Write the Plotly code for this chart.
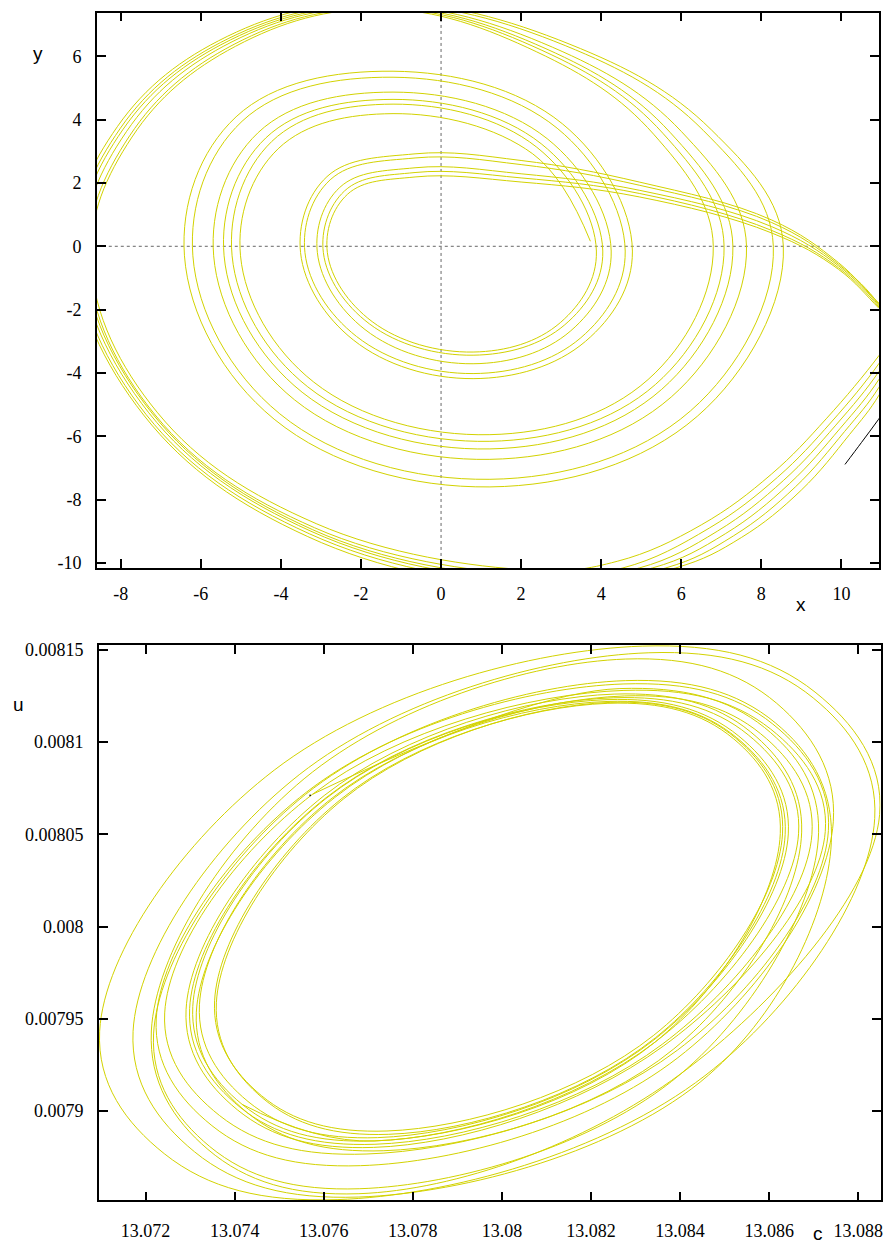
import plotly.graph_objects as go

# ================= TOP PANEL (x, y) =================
# Trajectory read at characteristic points of each pass; passes ranked outer -> inner.
# re-injection branch (tail), 5 passes
TAIL_X = [10.94, 9.93, 8.26, 4.95, 2.0]
TAIL_Y = [
    [-1.80, -0.52, 0.83, 2.03, 2.71],
    [-1.84, -0.57, 0.75, 1.93, 2.58],
    [-1.88, -0.62, 0.62, 1.77, 2.29],
    [-1.92, -0.68, 0.50, 1.67, 2.16],
    [-1.96, -0.73, 0.42, 1.56, 2.03],
]
# small turn: top, upper-left, left, lower-left, bottom, lower-right, right, upper-right
S_X = [
    [-0.65, -2.85, -3.51, -2.19, 0.8, 3.61, 4.78, 3.03],
    [-0.65, -2.77, -3.40, -2.11, 0.8, 3.49, 4.60, 2.90],
    [-0.65, -2.53, -3.09, -1.90, 0.8, 3.24, 4.25, 2.65],
    [-0.65, -2.41, -2.94, -1.79, 0.8, 3.09, 4.04, 2.50],
    [-0.65, -2.34, -2.84, -1.72, 0.8, 2.98, 3.88, 2.39],
]
S_Y = [
    [2.92, 2.20, -0.2, -2.96, -4.18, -3.00, -0.15, 3.87],
    [2.79, 2.10, -0.2, -2.85, -4.02, -2.89, -0.15, 3.73],
    [2.48, 1.86, -0.2, -2.63, -3.71, -2.67, -0.15, 3.40],
    [2.33, 1.75, -0.2, -2.45, -3.44, -2.48, -0.15, 3.24],
    [2.19, 1.64, -0.2, -2.38, -3.34, -2.41, -0.15, 3.13],
]
START_X = [3.73, 2.29]
START_Y = [0.16, 2.92]
# middle turn: top, upper-left, left, lower-left, bottom, lower-right, right, two upper-right
M_X = [
    [-1.2, -5.12, -6.41, -4.17, 1.22, 6.40, 8.55, 6.75, 3.22],
    [-1.2, -4.97, -6.20, -4.03, 1.22, 6.23, 8.30, 6.55, 3.10],
    [-1.2, -4.57, -5.68, -3.66, 1.22, 5.75, 7.63, 6.00, 2.78],
    [-1.2, -4.38, -5.42, -3.47, 1.22, 5.51, 7.29, 5.72, 2.62],
    [-1.2, -4.23, -5.22, -3.33, 1.22, 5.36, 7.07, 5.54, 2.52],
    [-1.2, -4.07, -5.01, -3.18, 1.22, 5.17, 6.80, 5.31, 2.39],
]
M_Y = [
    [5.53, 4.09, -0.3, -5.46, -7.60, -5.37, 0.0, 3.68, 6.38],
    [5.34, 3.95, -0.3, -5.29, -7.36, -5.20, 0.0, 3.66, 6.34],
    [4.87, 3.59, -0.3, -4.85, -6.73, -4.76, 0.0, 3.63, 6.29],
    [4.64, 3.42, -0.3, -4.61, -6.40, -4.52, 0.0, 3.60, 6.24],
    [4.49, 3.31, -0.3, -4.44, -6.16, -4.36, 0.0, 3.57, 6.19],
    [4.19, 3.08, -0.3, -4.29, -5.95, -4.21, 0.0, 3.54, 6.14],
]
# big turn: top, 2 upper-left, left, 2 lower-left, bottom, lower-right readings, exit
B_X = [
    [-1.5, -5.34, -8.08, -9.16, -7.43, -3.33, 2.27, 5.86, 7.50, 9.00, 10.20, 10.94, 11.5],
    [-1.5, -5.30, -8.01, -9.08, -7.37, -3.29, 2.27, 5.61, 7.30, 8.85, 10.08, 10.94, 11.5],
    [-1.5, -5.26, -7.94, -9.00, -7.30, -3.25, 2.27, 5.28, 7.10, 8.70, 9.97, 10.94, 11.5],
    [-1.5, -5.22, -7.86, -8.91, -7.22, -3.21, 2.27, 4.95, 6.90, 8.55, 9.86, 10.94, 11.5],
    [-1.5, -5.17, -7.78, -8.81, -7.14, -3.16, 2.27, 4.54, 6.70, 8.40, 9.75, 10.94, 11.5],
    [-1.5, -5.13, -7.72, -8.74, -7.08, -3.12, 2.27, 4.40, 6.50, 8.25, 9.62, 10.94, 11.5],
]
B_Y = [
    [7.72, 6.63, 3.79, -0.10, -5.33, -9.17, -10.78, -10.16, -9.20, -7.70, -5.95, -4.70, -3.20],
    [7.66, 6.57, 3.73, -0.17, -5.31, -9.08, -10.66, -10.16, -9.15, -7.60, -5.85, -4.45, -3.00],
    [7.61, 6.52, 3.70, -0.16, -5.26, -9.00, -10.57, -10.16, -9.08, -7.50, -5.75, -4.20, -2.85],
    [7.57, 6.46, 3.62, -0.26, -5.27, -8.95, -10.49, -10.16, -9.00, -7.40, -5.65, -3.95, -2.70],
    [7.53, 6.38, 3.49, -0.47, -5.33, -8.89, -10.39, -10.16, -8.90, -7.30, -5.55, -3.70, -2.55],
    [7.50, 6.32, 3.45, -0.48, -5.26, -8.76, -10.23, -9.95, -8.80, -7.20, -5.45, -3.45, -2.40],
]
BLACK_X = [10.09, 10.50, 10.92, 11.30]
BLACK_Y = [-6.89, -6.20, -5.48, -4.80]

TOP_XTICKS = [-8, -6, -4, -2, 0, 2, 4, 6, 8, 10]
TOP_XTEXT = ["-8", "-6", "-4", "-2", "0", "2", "4", "6", "8", "10"]
TOP_YTICKS = [-10, -8, -6, -4, -2, 0, 2, 4, 6]
TOP_YTEXT = ["-10", "-8", "-6", "-4", "-2", "0", "2", "4", "6"]

# ================= BOTTOM PANEL (c, u) =================
# each turn read at 8 points: right, upper-right, top, upper-left, left, lower-left, bottom, lower-right
L0_C = [13.07417, 13.07713, 13.08344]
L0_U = [0.0079036, 0.0078838, 0.0079374]
L1_C = [13.08636, 13.08527, 13.08236, 13.07616, 13.07321, 13.07430, 13.07721, 13.08341]
L1_U = [0.0080500, 0.0081024, 0.0081220, 0.0080691, 0.0079576, 0.0079052, 0.0078856, 0.0079385]
L2_C = [13.08673, 13.08558, 13.08252, 13.07601, 13.07291, 13.07406, 13.07712, 13.08363]
L2_U = [0.0080512, 0.0081056, 0.0081260, 0.0080710, 0.0079551, 0.0079007, 0.0078803, 0.0079353]
L3_C = [13.08733, 13.08608, 13.08274, 13.07562, 13.07224, 13.07349, 13.07683, 13.08395]
L3_U = [0.0080520, 0.0081098, 0.0081315, 0.0080730, 0.0079499, 0.0078921, 0.0078704, 0.0079289]
L4_C = [13.08625, 13.08520, 13.08238, 13.07639, 13.07355, 13.07460, 13.07742, 13.08341]
L4_U = [0.0080504, 0.0081018, 0.0081210, 0.0080691, 0.0079598, 0.0079084, 0.0078892, 0.0079411]
L5_C = [13.08666, 13.08553, 13.08250, 13.07605, 13.07299, 13.07412, 13.07715, 13.08360]
L5_U = [0.0080503, 0.0081039, 0.0081240, 0.0080698, 0.0079557, 0.0079021, 0.0078820, 0.0079362]
L6_C = [13.08848, 13.08703, 13.08315, 13.07489, 13.07097, 13.07242, 13.07630, 13.08456]
L6_U = [0.0080607, 0.0081271, 0.0081520, 0.0080848, 0.0079433, 0.0078769, 0.0078520, 0.0079192]
L7_C = [13.08630, 13.08525, 13.08243, 13.07644, 13.07359, 13.07464, 13.07746, 13.08345]
L7_U = [0.0080502, 0.0081021, 0.0081215, 0.0080691, 0.0079587, 0.0079068, 0.0078874, 0.0079398]
L8_C = [13.08711, 13.08590, 13.08265, 13.07575]
L8_U = [0.0080511, 0.0081078, 0.0081290, 0.0080717]
L9_C = [13.08643, 13.08532, 13.08236, 13.07605, 13.07306, 13.07417, 13.07713, 13.08344]
L9_U = [0.0080502, 0.0081032, 0.0081230, 0.0080694, 0.0079566, 0.0079036, 0.0078838, 0.0079374]
L10_C = [13.08837, 13.08699, 13.08330, 13.07545, 13.07172, 13.07310, 13.07679, 13.08464]
L10_U = [0.0080586, 0.0081239, 0.0081484, 0.0080823, 0.0079432, 0.0078779, 0.0078534, 0.0079195]
L11_C = [13.08726, 13.08603, 13.08274, 13.07575, 13.07243, 13.07366, 13.07695, 13.08394]
L11_U = [0.0080515, 0.0081071, 0.0081280, 0.0080717, 0.0079532, 0.0078976, 0.0078767, 0.0079330]
L12_C = [13.08696, 13.08581, 13.08275, 13.07624, 13.07314, 13.07429, 13.07735, 13.08386]
L12_U = [0.0080499, 0.0081045, 0.0081250, 0.0080698, 0.0079536, 0.0078990, 0.0078785, 0.0079337]
L13_C = [13.08744, 13.08617, 13.08278, 13.07556, 13.07213, 13.07340, 13.07679, 13.08401]
L13_U = [0.0080568, 0.0081210, 0.0081450, 0.0080801, 0.0079434, 0.0078792, 0.0078552, 0.0079201]
L14_C = [13.08740, 13.08614, 13.08277, 13.07559, 13.07218, 13.07344, 13.07681, 13.08399]
L14_U = [0.0080494, 0.0081104, 0.0081333, 0.0080716, 0.0079418, 0.0078808, 0.0078579, 0.0079196]
START_CU_C = [13.07568, 13.07571]
START_CU_U = [0.0080710, 0.0080712]

BOT_XTICKS = [13.072, 13.074, 13.076, 13.078, 13.08, 13.082, 13.084, 13.086, 13.088]
BOT_XTEXT = ["13.072", "13.074", "13.076", "13.078", "13.08", "13.082", "13.084", "13.086", "13.088"]
BOT_YTICKS = [0.0079, 0.00795, 0.008, 0.00805, 0.0081, 0.00815]
BOT_YTEXT = ["0.0079", "0.00795", "0.008", "0.00805", "0.0081", "0.00815"]

# ---------- assemble trajectory (top) ----------
tx = START_X + M_X[5] + B_X[5]
ty = START_Y + M_Y[5] + B_Y[5]
for k in range(5):
    tx += TAIL_X + S_X[k] + M_X[k] + B_X[k]
    ty += TAIL_Y[k] + S_Y[k] + M_Y[k] + B_Y[k]

# ---------- assemble trajectory (bottom) ----------
order_c = [L0_C, L4_C, L7_C, L1_C, L9_C, L5_C, L12_C, L2_C, L11_C, L3_C, L13_C, L6_C, L10_C, L14_C, L8_C]
order_u = [L0_U, L4_U, L7_U, L1_U, L9_U, L5_U, L12_U, L2_U, L11_U, L3_U, L13_U, L6_U, L10_U, L14_U, L8_U]
bc, bu = [], []
for cc, uu in zip(order_c, order_u):
    bc += cc
    bu += uu

YEL = "#d2d200"
W, H = 888, 1249

fig = go.Figure()
fig.add_trace(go.Scatter(x=tx, y=ty, mode="lines", xaxis="x", yaxis="y",
                         line=dict(color=YEL, width=1, shape="spline", smoothing=1.1),
                         hoverinfo="skip", showlegend=False))
fig.add_trace(go.Scatter(x=BLACK_X, y=BLACK_Y, mode="lines", xaxis="x", yaxis="y",
                         line=dict(color="black", width=1, shape="spline"),
                         hoverinfo="skip", showlegend=False))
fig.add_trace(go.Scatter(x=bc, y=bu, mode="lines", xaxis="x2", yaxis="y2",
                         line=dict(color=YEL, width=1, shape="spline", smoothing=1.1),
                         hoverinfo="skip", showlegend=False))
fig.add_trace(go.Scatter(x=START_CU_C, y=START_CU_U, mode="lines", xaxis="x2", yaxis="y2",
                         line=dict(color="black", width=1.5),
                         hoverinfo="skip", showlegend=False))

tickfont = dict(family="Liberation Serif, Times New Roman, serif", size=18, color="black")
axis_common = dict(showline=True, linecolor="black", linewidth=1.5, mirror="ticks",
                   ticks="inside", ticklen=9, tickwidth=1.5, tickcolor="black",
                   showgrid=False, zeroline=False, tickfont=tickfont, tickmode="array")

fig.update_layout(
    width=W, height=H,
    margin=dict(l=0, r=0, t=0, b=0),
    paper_bgcolor="white", plot_bgcolor="white",
    xaxis=dict(domain=[97 / W, 881 / W], range=[-8.6, 10.94], anchor="y",
               tickvals=TOP_XTICKS, ticktext=TOP_XTEXT, ticklabelstandoff=9, **axis_common),
    yaxis=dict(domain=[1 - 567.5 / H, 1 - 7.7 / H], range=[-10.16, 7.38], anchor="x",
               tickvals=TOP_YTICKS, ticktext=TOP_YTEXT, ticklabelstandoff=10, **axis_common),
    xaxis2=dict(domain=[99 / W, 882.5 / W], range=[13.07095, 13.08850], anchor="y2",
                tickvals=BOT_XTICKS, ticktext=BOT_XTEXT, ticklabelstandoff=13, **axis_common),
    yaxis2=dict(domain=[1 - 1205 / H, 1 - 645 / H], range=[0.0078516, 0.0081527], anchor="x2",
                tickvals=BOT_YTICKS, ticktext=BOT_YTEXT, ticklabelstandoff=10, **axis_common),
    shapes=[
        dict(type="line", xref="x", yref="y domain", x0=0, x1=0, y0=0, y1=1, layer="below",
             line=dict(color="#666666", width=1, dash="dot")),
        dict(type="line", xref="x domain", yref="y", x0=0, x1=1, y0=0, y1=0, layer="below",
             line=dict(color="#666666", width=1, dash="dot")),
    ],
)

labfont = dict(family="Liberation Sans", size=19, color="black")
for txt, px, py in [("x", 803, 604), ("y", 38, 49), ("u", 19, 705), ("c", 820, 1238)]:
    fig.add_annotation(text=txt, x=px / W, y=1 - py / H, xref="paper", yref="paper",
                       showarrow=False, font=labfont, xanchor="center", yanchor="middle")

fig.write_html("out.html",
               config={"displayModeBar": False},
               post_script="document.body.style.margin='0px';"
                           "document.body.style.overflow='hidden';"
                           "document.documentElement.style.overflow='hidden';")
